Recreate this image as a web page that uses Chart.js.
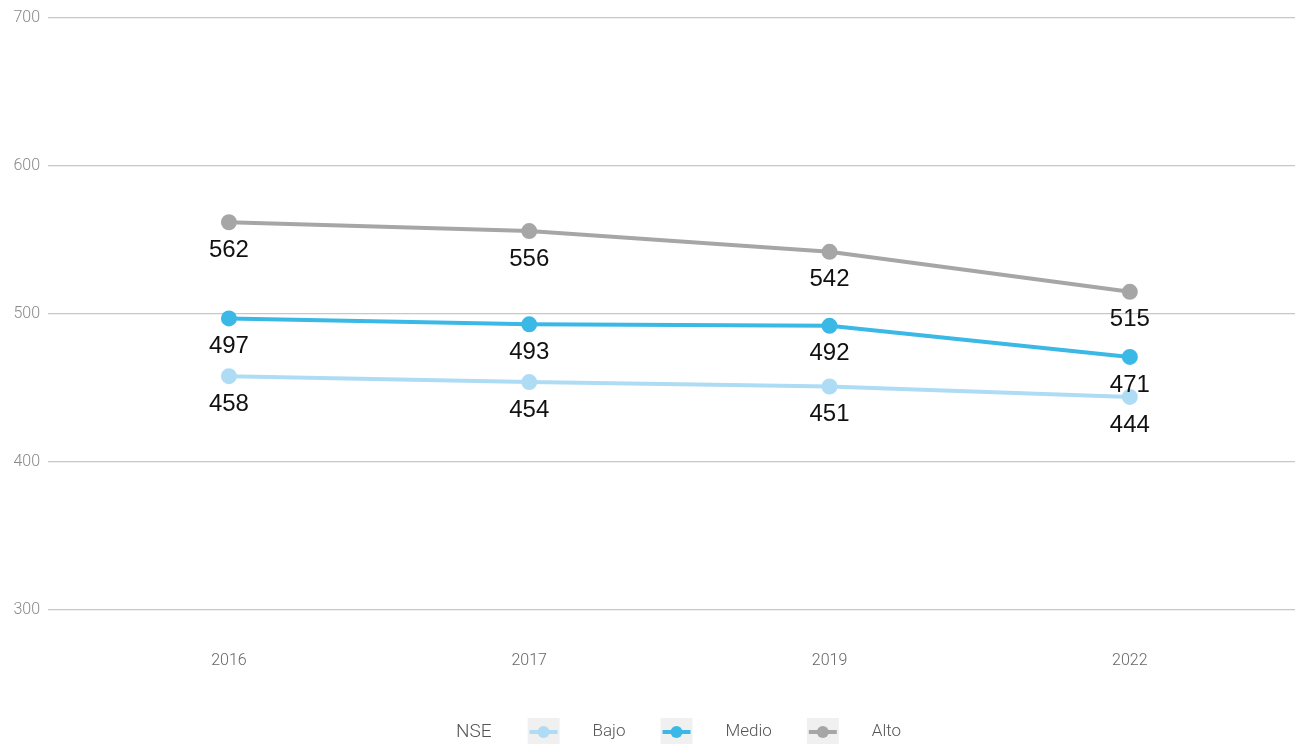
<!DOCTYPE html>
<html>
<head>
<meta charset="utf-8">
<script src="https://cdn.jsdelivr.net/npm/chart.js@4"></script>
<style>
  body { margin: 0; background: #fff; }
  #wrap { width: 1295px; height: 744px; }
</style>
</head>
<body>
<div id="wrap"><canvas id="myChart" width="1295" height="744"></canvas></div>
<script>
const years = ['2016', '2017', '2019', '2022'];
const bajo = [458, 454, 451, 444];
const medio = [497, 493, 492, 471];
const alto = [562, 556, 542, 515];
const yTicks = [300, 400, 500, 600, 700];

const seriesNames = ['Bajo', 'Medio', 'Alto'];
const seriesColors = ['#aedcf5', '#3ab8e6', '#a6a6a6'];
const legendTitle = 'NSE';

function toPoints(arr) {
  return arr.map((v, i) => ({ x: i, y: v }));
}

// values under each point
const valueLabels = {
  id: 'valueLabels',
  afterDatasetsDraw(chart) {
    const ctx = chart.ctx;
    ctx.save();
    ctx.font = '24px "Liberation Sans", Arial, sans-serif';
    ctx.fillStyle = '#111';
    ctx.textAlign = 'center';
    ctx.textBaseline = 'middle';
    chart.data.datasets.forEach((ds, di) => {
      chart.getDatasetMeta(di).data.forEach((pt, i) => {
        ctx.fillText(ds.data[i].y, pt.x, pt.y + 28);
      });
    });
    ctx.restore();
  }
};

// legend row at the bottom: NSE [sym] Bajo [sym] Medio [sym] Alto
const bottomLegend = {
  id: 'bottomLegend',
  afterDraw(chart) {
    const ctx = chart.ctx;
    const y = 732;
    ctx.save();
    ctx.textBaseline = 'middle';
    ctx.fillStyle = '#555';
    let x = 456;
    ctx.font = '300 19px Roboto, sans-serif';
    ctx.fillText(legendTitle, x, y);
    x += ctx.measureText(legendTitle).width + 36;
    ctx.font = '300 17px Roboto, sans-serif';
    seriesNames.forEach((name, i) => {
      const col = seriesColors[i];
      ctx.fillStyle = '#f0f0f0';
      ctx.fillRect(x, y - 14, 32, 27);
      ctx.strokeStyle = col;
      ctx.lineWidth = 4;
      ctx.beginPath();
      ctx.moveTo(x + 2, y);
      ctx.lineTo(x + 30, y);
      ctx.stroke();
      ctx.fillStyle = col;
      ctx.beginPath();
      ctx.arc(x + 16, y, 6, 0, Math.PI * 2);
      ctx.fill();
      x += 32 + 33;
      ctx.fillStyle = '#555';
      ctx.fillText(name, x, y);
      x += ctx.measureText(name).width + 35;
    });
    ctx.restore();
  }
};

const ctx = document.getElementById('myChart').getContext('2d');

const chart = new Chart(ctx, {
  type: 'line',
  data: {
    datasets: [bajo, medio, alto].map((d, i) => ({
      label: seriesNames[i],
      data: toPoints(d),
      borderColor: seriesColors[i],
      backgroundColor: seriesColors[i],
      borderWidth: 4,
      pointRadius: 6,
      pointHoverRadius: 6,
      tension: 0
    })).reverse()
  },
  options: {
    responsive: false,
    animation: false,
    layout: { autoPadding: false, padding: { top: 18, left: 0, right: 0, bottom: 0 } },
    plugins: {
      legend: { display: false },
      tooltip: { enabled: false }
    },
    scales: {
      x: {
        type: 'linear',
        min: -0.6025,
        max: 3.55,
        afterBuildTicks: (scale) => {
          scale.ticks = years.map((y, i) => ({ value: i }));
        },
        afterFit: (scale) => {
          scale.height = 134;
          scale.paddingLeft = 0;
          scale.paddingRight = 0;
        },
        grid: { display: false },
        border: { display: false },
        ticks: {
          callback: (v) => years[v],
          color: '#666',
          font: { family: 'Roboto', size: 16, weight: '300' },
          padding: 33,
          maxRotation: 0,
          autoSkip: false
        }
      },
      y: {
        min: 300,
        max: 700,
        afterBuildTicks: (scale) => {
          scale.ticks = yTicks.map(v => ({ value: v }));
        },
        afterFit: (scale) => { scale.width = 48; },
        grid: { color: '#c8c8c8', lineWidth: 1.2, drawTicks: false },
        border: { display: false },
        ticks: {
          color: '#888',
          font: { family: 'Roboto', size: 16, weight: '300' },
          padding: 8
        }
      }
    }
  },
  plugins: [valueLabels, bottomLegend]
});
</script>
</body>
</html>
